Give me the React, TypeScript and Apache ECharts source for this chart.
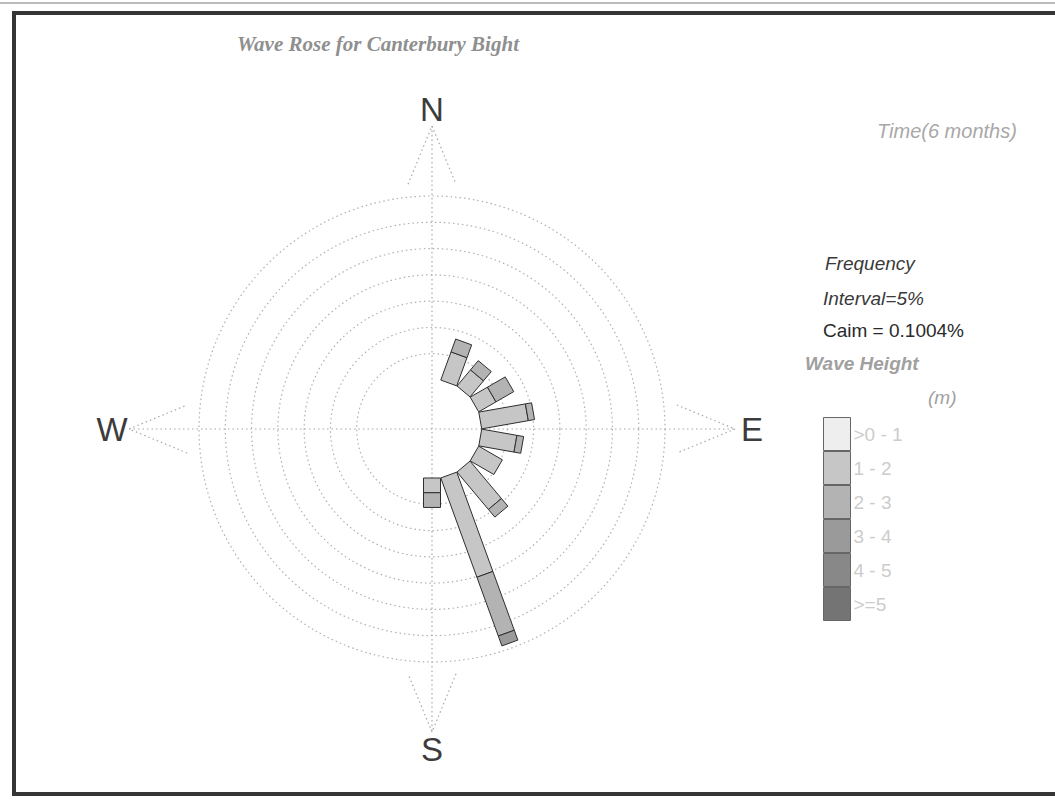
import React, { useEffect, useRef } from "react";
import * as echarts from "echarts";

// ---- data ----
const directions = [0, 20, 40, 60, 80, 100, 120, 140, 160, 180, 200, 220, 240, 260, 280, 300, 320, 340];
const classNames = [">0 - 1", "1 - 2", "2 - 3", "3 - 4", "4 - 5", ">=5"];
const classColors = ["#eeeeee", "#c6c6c6", "#b3b3b3", "#9a9a9a", "#888888", "#747474"];
const freq0to1 = [0, 0, 0, 0, 0, 0, 0, 0, 0, 0, 0, 0, 0, 0, 0, 0, 0, 0];
const freq1to2 = [0, 5.7, 4.0, 3.8, 9.0, 6.8, 5.2, 9.3, 20.1, 2.8, 0, 0, 0, 0, 0, 0, 0, 0];
const freq2to3 = [0, 2.6, 2.3, 3.9, 1.2, 1.3, 0, 1.9, 11.9, 2.8, 0, 0, 0, 0, 0, 0, 0, 0];
const freq3to4 = [0, 0, 0, 0, 0, 0, 0, 0, 2.0, 0, 0, 0, 0, 0, 0, 0, 0, 0];
const freq4to5 = [0, 0, 0, 0, 0, 0, 0, 0, 0, 0, 0, 0, 0, 0, 0, 0, 0, 0];
const freq5up = [0, 0, 0, 0, 0, 0, 0, 0, 0, 0, 0, 0, 0, 0, 0, 0, 0, 0];
const classFreqs = [freq0to1, freq1to2, freq2to3, freq3to4, freq4to5, freq5up];
const ringMin = 0;
const ringMax = 35;
const ringInterval = 5;
const compassLabels = ["N", "E", "S", "W"];
const compassAngles = [0, 90, 180, 270];

// ---- layout ----
const W = 1055;
const H = 803;
const CX = 432;
const CY = 429;
const R_IN = 49;
const R_OUT = 233;
const BAR_HALF = 8.5;
const PT_BASE_R = 246;
const PT_APEX_R = 303;
const PT_HALF_ANG = 5.6;
const LABEL_R = 320;

function pt(r: number, deg: number): [number, number] {
  const a = (deg * Math.PI) / 180;
  return [CX + r * Math.sin(a), CY - r * Math.cos(a)];
}

export default function App() {
  const ref = useRef<HTMLDivElement>(null);
  useEffect(() => {
    if (!ref.current) return;
    const chart = echarts.init(ref.current, null, { renderer: "svg" });

    const cum = directions.map(() => 0);
    const series = classNames.map((name, ci) => {
      const data = directions.map((d, i) => {
        const s = cum[i];
        const e = s + classFreqs[ci][i];
        cum[i] = e;
        return [s, e, d];
      });
      return {
        type: "custom",
        name,
        coordinateSystem: "polar",
        itemStyle: { color: classColors[ci] },
        encode: { radius: [0, 1], angle: 2 },
        data,
        renderItem: (params: any, api: any) => {
          const r0 = api.value(0);
          const r1 = api.value(1);
          const ang = api.value(2);
          if (!(r1 > r0)) return null;
          const p0 = api.coord([r0, ang]);
          const p1 = api.coord([r1, ang]);
          const dx = p1[0] - p0[0];
          const dy = p1[1] - p0[1];
          const len = Math.hypot(dx, dy) || 1;
          const nx = (-dy / len) * BAR_HALF;
          const ny = (dx / len) * BAR_HALF;
          return {
            type: "polygon",
            shape: {
              points: [
                [p0[0] + nx, p0[1] + ny],
                [p1[0] + nx, p1[1] + ny],
                [p1[0] - nx, p1[1] - ny],
                [p0[0] - nx, p0[1] - ny],
              ],
            },
            style: { fill: api.visual("color"), stroke: "#2e2e2e", lineWidth: 1 },
          };
        },
      };
    });

    const dotted = { stroke: "#a8a8a8", lineWidth: 1.2, lineDash: [1.5, 3] };
    const graphics: any[] = [];
    // frame
    graphics.push({ type: "line", shape: { x1: 0, y1: 3, x2: W, y2: 3 }, style: { stroke: "#777", lineWidth: 1 } });
    graphics.push({
      type: "rect",
      shape: { x: 14, y: 13, width: W + 20, height: 781 },
      style: { fill: "none", stroke: "#353535", lineWidth: 4 },
    });
    // spokes
    const nA = pt(PT_APEX_R, 0), sA = pt(PT_APEX_R, 180), eA = pt(PT_APEX_R, 90), wA = pt(PT_APEX_R, 270);
    graphics.push({ type: "line", shape: { x1: nA[0], y1: nA[1], x2: sA[0], y2: sA[1] }, style: dotted });
    graphics.push({ type: "line", shape: { x1: wA[0], y1: wA[1], x2: eA[0], y2: eA[1] }, style: dotted });
    compassAngles.forEach((a, i) => {
      graphics.push({
        type: "polyline",
        shape: { points: [pt(PT_BASE_R, a - PT_HALF_ANG), pt(PT_APEX_R, a), pt(PT_BASE_R, a + PT_HALF_ANG)] },
        style: { ...dotted, fill: "none" },
      });
      const lp = pt(LABEL_R, a);
      graphics.push({
        type: "text",
        x: lp[0],
        y: lp[1],
        style: {
          text: compassLabels[i],
          fill: "#3c3c3c",
          font: "33px 'Liberation Sans', Arial, sans-serif",
          textAlign: "center",
          textVerticalAlign: "middle",
        },
      });
    });
    const txt = (text: string, x: number, y: number, fill: string, font: string) => ({
      type: "text",
      x,
      y,
      style: { text, fill, font, textVerticalAlign: "middle" },
    });
    graphics.push(txt("Time(6 months)", 877, 131, "#a8a8a8", "italic 20px 'Liberation Sans', Arial, sans-serif"));
    graphics.push(txt("Frequency", 825, 263, "#3a3a3a", "italic 19px 'Liberation Sans', Arial, sans-serif"));
    graphics.push(txt("Interval=5%", 823, 298, "#3a3a3a", "italic 19px 'Liberation Sans', Arial, sans-serif"));
    graphics.push(txt("Caim = 0.1004%", 823, 330, "#2a2a2a", "19px 'Liberation Sans', Arial, sans-serif"));
    graphics.push(txt("Wave Height", 805, 363, "#a0a0a0", "italic bold 19px 'Liberation Sans', Arial, sans-serif"));
    graphics.push(txt("(m)", 928, 397, "#a0a0a0", "italic 19px 'Liberation Sans', Arial, sans-serif"));

    chart.setOption({
      animation: false,
      backgroundColor: "#ffffff",
      title: {
        text: "Wave Rose for Canterbury Bight",
        left: 232,
        top: 28,
        textStyle: {
          color: "#8f8f8f",
          fontStyle: "italic",
          fontWeight: "bold",
          fontFamily: "'Liberation Serif', 'Times New Roman', serif",
          fontSize: 21,
        },
      },
      legend: {
        orient: "vertical",
        left: 818,
        top: 412,
        itemWidth: 27,
        itemHeight: 33,
        itemGap: 0,
        icon: "rect",
        selectedMode: false,
        data: classNames,
        itemStyle: { borderColor: "#666", borderWidth: 1 },
        textStyle: { color: "#cccccc", fontSize: 19, fontFamily: "'Liberation Sans', Arial, sans-serif", padding: [0, 0, 0, -2] },
      },
      polar: { center: [CX, CY], radius: [R_IN, R_OUT] },
      angleAxis: {
        type: "value",
        min: 0,
        max: 360,
        startAngle: 90,
        clockwise: true,
        axisLine: { show: false },
        axisTick: { show: false },
        axisLabel: { show: false },
        splitLine: { show: false },
      },
      radiusAxis: {
        type: "value",
        min: ringMin,
        max: ringMax,
        interval: ringInterval,
        axisLine: { show: false },
        axisTick: { show: false },
        axisLabel: { show: false },
        splitLine: {
          show: true,
          lineStyle: {
            color: ["rgba(0,0,0,0)", "#b0b0b0", "#b0b0b0", "#b0b0b0", "#b0b0b0", "#b0b0b0", "#b0b0b0", "#b0b0b0"],
            width: 1.2,
            type: [1.5, 3],
          },
        },
      },
      graphic: graphics,
      series,
    });
    return () => chart.dispose();
  }, []);
  return <div ref={ref} style={{ position: "fixed", left: 0, top: 0, width: W, height: H }} />;
}
